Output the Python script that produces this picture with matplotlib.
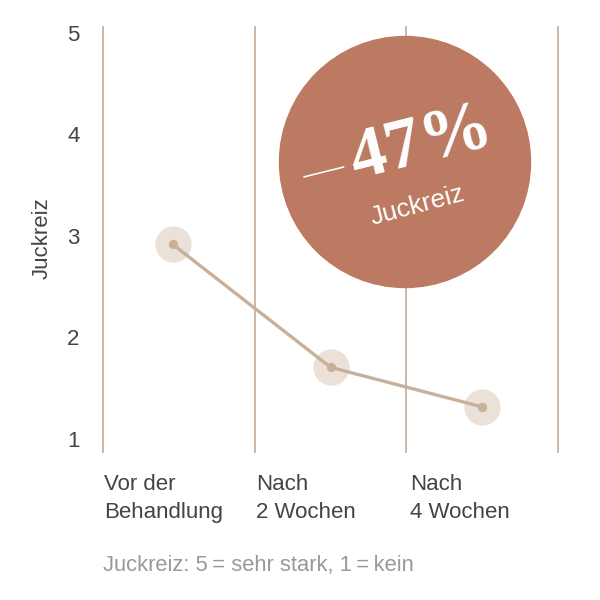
import numpy as np
import matplotlib.pyplot as plt
from matplotlib.patches import Ellipse

# Juckreiz-Werte (Skala 1-5)
categories = ['Vor der\nBehandlung', 'Nach\n2 Wochen', 'Nach\n4 Wochen']
values = [2.94, 1.73, 1.34]
y_ticks = [1, 2, 3, 4, 5]
reduction = '47%'

plt.rcParams['font.family'] = ['Liberation Sans', 'DejaVu Sans']

line_col = '#c8b09a'
grid_col = '#cdb8a4'
halo_col = '#ebe1d9'
circle_col = '#bb7a61'
text_col = '#444444'

fig = plt.figure(figsize=(6, 6), dpi=100)
ax = fig.add_axes([103 / 600, 148 / 600, 455 / 600, 425 / 600])
ax.set_xlim(0, 3)
ax.set_ylim(0.896, 5.08)
ax.axis('off')

# vertical separators
for xv in range(len(categories) + 1):
    ax.axvline(xv, color=grid_col, lw=1.4, clip_on=False)

x = np.arange(len(values)) + 0.5
x[0] -= 0.04
ax.scatter(x, values, s=680, color=halo_col, zorder=2, linewidths=0)
ax.plot(x, values, color=line_col, lw=2.4, zorder=3)
ax.scatter(x, values, s=45, color=line_col, zorder=4, linewidths=0)

# y tick labels
for t in y_ticks:
    ax.text(-0.155, t, str(t), ha='right', va='center', fontsize=16,
            color=text_col, clip_on=False)
ax.text(-0.40, 3, 'Juckreiz', rotation=90, ha='center', va='center',
        fontsize=16, color=text_col, clip_on=False)

# category labels
for i, lab in enumerate(categories):
    fig.text((103 + i * 151.7 + 1 + (3 if i == 2 else 0)) / 600, 1 - 474 / 600,
             lab, ha='left', va='top', fontsize=16, color=text_col,
             linespacing=1.45)

fig.text(103 / 600, 1 - 566 / 600, 'Juckreiz: 5\u2009= sehr stark, 1\u2009=\u2009kein',
         ha='left', va='center', fontsize=15.8, color='#999999')

# badge
circ = Ellipse((405 / 600, 1 - 162 / 600), 251 / 600, 251 / 600,
               transform=fig.transFigure, color=circle_col, zorder=5)
fig.patches.append(circ)
fig.text(323 / 600, 1 - 172 / 600, '\u2014', ha='center', va='center',
         rotation=14, fontsize=30, color='white',
         family=['Liberation Serif', 'DejaVu Serif'], zorder=6)
fig.text(422 / 600, 1 - 145 / 600, reduction, ha='center', va='center',
         rotation=14, fontsize=52, color='white', fontweight='bold',
         family=['Liberation Serif', 'DejaVu Serif'], zorder=6)
fig.text(418 / 600, 1 - 206 / 600, 'Juckreiz', ha='center', va='center',
         rotation=15, fontsize=19, color='white', zorder=6)

fig.savefig('out.png', dpi=100)
